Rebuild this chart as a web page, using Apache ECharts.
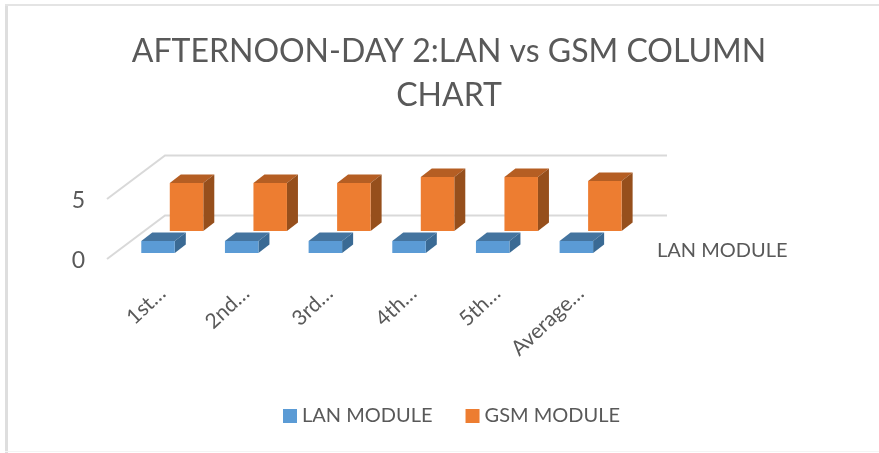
<!DOCTYPE html>
<html>
<head>
<meta charset="utf-8">
<script src="https://cdn.jsdelivr.net/npm/echarts@6/dist/echarts.min.js"></script>
<style>html,body{margin:0;padding:0;background:#fff}#c{width:879px;height:453px}</style>
</head>
<body>
<div id="c"></div>
<script>
var categories = ['1st…', '2nd…', '3rd…', '4th…', '5th…', 'Average…'];
var lanValues = [1, 1, 1, 1, 1, 1];
var gsmValues = [4, 4, 4, 4.5, 4.5, 4.17];
var yTicks = [0, 5];
var titleLines = 'AFTERNOON-DAY 2:LAN vs GSM COLUMN\nCHART';
var depthLabel = 'LAN MODULE';

var FONT = 'Lato';
var chart = echarts.init(document.getElementById('c'), null, {renderer: 'canvas'});

function barRenderer(offX, offY, front, top, side) {
  return function (params, api) {
    var base = api.coord([api.value(0), 0]);
    var head = api.coord([api.value(0), api.value(1)]);
    var w = 33.5, dx = 11, dy = 8.5;
    var x0 = base[0] + offX - w / 2, x1 = x0 + w;
    var yb = base[1] + offY, yt = head[1] + offY;
    return {
      type: 'group',
      children: [
        {type: 'polygon', shape: {points: [[x0, yt], [x0 + dx, yt - dy], [x1 + dx, yt - dy], [x1, yt]]}, style: {fill: top}},
        {type: 'polygon', shape: {points: [[x1, yt], [x1 + dx, yt - dy], [x1 + dx, yb - dy], [x1, yb]]}, style: {fill: side}},
        {type: 'rect', shape: {x: x0, y: yt, width: w, height: yb - yt}, style: {fill: front}}
      ]
    };
  };
}

function wallRenderer(params, api) {
  var v = api.value(0);
  var p = api.coord([0, v]);
  var q = api.coord([categories.length - 1, v]);
  var half = api.size([1, 0])[0] / 2;
  var left = p[0] - half, right = q[0] + half, y = p[1];
  return {
    type: 'polyline',
    shape: {points: [[left - 18, y], [left + 40, y - 43.5], [right + 40, y - 43.5]]},
    style: {fill: null, stroke: '#D9D9D9', lineWidth: 2}
  };
}

chart.setOption({
  animation: false,
  backgroundColor: '#ffffff',
  title: [
    {text: titleLines, left: 444, top: 25, textAlign: 'center',
     textStyle: {fontFamily: FONT, fontWeight: 'normal', fontSize: 32, lineHeight: 44, color: '#595959'}},
    {text: depthLabel, left: 652, top: 236,
     textStyle: {fontFamily: FONT, fontWeight: 'normal', fontSize: 20, color: '#595959'}}
  ],
  legend: {
    left: 278, top: 401, itemWidth: 14, itemHeight: 14, itemGap: 33, itemStyle: {borderWidth: 0},
    icon: 'rect',
    data: ['LAN MODULE', 'GSM MODULE'],
    textStyle: {fontFamily: FONT, fontSize: 20, color: '#595959'}
  },
  grid: {left: 125, width: 502, top: 199, height: 60},
  xAxis: {
    type: 'category', data: categories,
    axisLine: {show: false}, axisTick: {show: false},
    axisLabel: {rotate: 43, interval: 0, margin: 27, padding: [0, 6, 0, 0], fontFamily: FONT, fontSize: 21, color: '#595959'}
  },
  yAxis: {
    type: 'value', min: 0, max: 5, interval: 5,
    splitLine: {show: false}, axisLine: {show: false}, axisTick: {show: false},
    axisLabel: {margin: 40, verticalAlign: 'top', padding: [-10, 0, 0, 0], fontFamily: FONT, fontSize: 23, color: '#595959'}
  },
  graphic: [
    {type: 'rect', shape: {x: 5, y: 4, width: 3, height: 449}, style: {fill: '#DEDEDE'}, silent: true},
    {type: 'rect', shape: {x: 5, y: 4, width: 874, height: 2}, style: {fill: '#E4E4E4'}, silent: true},
    {type: 'rect', shape: {x: 5, y: 451, width: 874, height: 1}, style: {fill: '#F4F4F4'}, silent: true}
  ],
  series: [
    {type: 'custom', silent: true, z: 1, clip: false, renderItem: wallRenderer,
     encode: {y: 0}, data: yTicks.map(function (t) { return [t]; })},
    {name: 'LAN MODULE', type: 'custom', z: 3, clip: false,
     itemStyle: {color: '#5B9BD5'},
     encode: {x: 0, y: 1},
     renderItem: barRenderer(-8.8, -6, '#5B9BD5', '#44749F', '#3A6A94'),
     data: lanValues.map(function (v, i) { return [i, v]; })},
    {name: 'GSM MODULE', type: 'custom', z: 2, clip: false,
     itemStyle: {color: '#ED7D31'},
     encode: {x: 0, y: 1},
     renderItem: barRenderer(19.7, -28, '#ED7D31', '#B55E23', '#964F1C'),
     data: gsmValues.map(function (v, i) { return [i, v]; })}
  ]
});
</script>
</body>
</html>
